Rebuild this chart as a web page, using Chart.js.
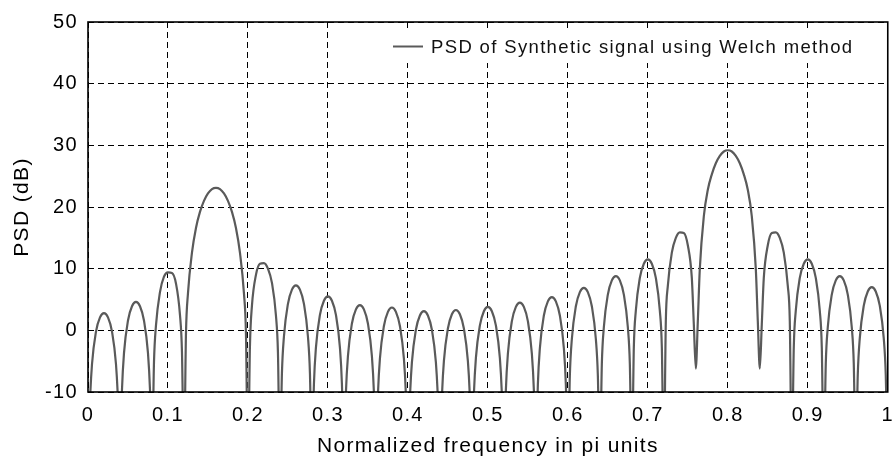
<!DOCTYPE html>
<html><head><meta charset="utf-8">
<script src="https://cdn.jsdelivr.net/npm/chart.js@4/dist/chart.umd.min.js"></script>
<style>html,body{margin:0;padding:0;background:#fff;}#c{display:block;}</style>
</head><body>
<canvas id="c" width="894" height="462"></canvas>
<script>
// Normalized frequency (x) and PSD in dB (y)
const freq = [
  0, 0.0025, 0.005, 0.01, 0.015, 0.02, 0.025, 0.03, 0.035, 0.0375,
  0.04, 0.0425, 0.045, 0.05, 0.055, 0.06, 0.065, 0.07, 0.075, 0.0775,
  0.08, 0.0825, 0.085, 0.09, 0.095, 0.10, 0.105, 0.11, 0.115, 0.1175,
  0.12, 0.1225, 0.125, 0.13, 0.135, 0.14, 0.145, 0.15, 0.155, 0.16, 0.165, 0.17, 0.175, 0.18, 0.185, 0.19, 0.195, 0.1975,
  0.20, 0.2025, 0.205, 0.21, 0.215, 0.22, 0.225, 0.23, 0.235, 0.2375,
  0.24, 0.2425, 0.245, 0.25, 0.255, 0.26, 0.265, 0.27, 0.275, 0.2775,
  0.28, 0.2825, 0.285, 0.29, 0.295, 0.30, 0.305, 0.31, 0.315, 0.3175,
  0.32, 0.3225, 0.325, 0.33, 0.335, 0.34, 0.345, 0.35, 0.355, 0.3575,
  0.36, 0.3625, 0.365, 0.37, 0.375, 0.38, 0.385, 0.39, 0.395, 0.3975,
  0.40, 0.4025, 0.405, 0.41, 0.415, 0.42, 0.425, 0.43, 0.435, 0.4375,
  0.44, 0.4425, 0.445, 0.45, 0.455, 0.46, 0.465, 0.47, 0.475, 0.4775,
  0.48, 0.4825, 0.485, 0.49, 0.495, 0.50, 0.505, 0.51, 0.515, 0.5175,
  0.52, 0.5225, 0.525, 0.53, 0.535, 0.54, 0.545, 0.55, 0.555, 0.5575,
  0.56, 0.5625, 0.565, 0.57, 0.575, 0.58, 0.585, 0.59, 0.595, 0.5975,
  0.60, 0.6025, 0.605, 0.61, 0.615, 0.62, 0.625, 0.63, 0.635, 0.6375,
  0.64, 0.6425, 0.645, 0.65, 0.655, 0.66, 0.665, 0.67, 0.675, 0.6775,
  0.68, 0.6825, 0.685, 0.69, 0.695, 0.70, 0.705, 0.71, 0.715, 0.7175,
  0.72, 0.7225, 0.725, 0.73, 0.735, 0.74, 0.745, 0.75, 0.755, 0.7575,
  0.76, 0.7625, 0.765, 0.77, 0.775, 0.78, 0.785, 0.79, 0.795, 0.80, 0.805, 0.81, 0.815, 0.82, 0.825, 0.83, 0.835, 0.8375,
  0.84, 0.8425, 0.845, 0.85, 0.855, 0.86, 0.865, 0.87, 0.875, 0.8775,
  0.88, 0.8825, 0.885, 0.89, 0.895, 0.90, 0.905, 0.91, 0.915, 0.9175,
  0.92, 0.9225, 0.925, 0.93, 0.935, 0.94, 0.945, 0.95, 0.955, 0.9575,
  0.96, 0.9625, 0.965, 0.97, 0.975, 0.98, 0.985, 0.99, 0.995, 0.9975,
  1.0
];
const psd = [
  -22, -11.4, -5.5, -0.2, 2.1, 2.8, 2.1, -0.2, -5.5, -11.4,
  -22, -9.6, -3.7, 1.6, 3.9, 4.6, 3.9, 1.6, -3.7, -9.6,
  -22, -5.2, 0.8, 6.2, 8.7, 9.4, 9.3, 7.6, 2.5, -3.5,
  -22, -0.5, 6.0, 12.6, 16.6, 19.2, 21.0, 22.2, 22.9, 23.1, 22.9, 22.2, 21.0, 19.2, 16.6, 12.6, 6.0, -0.5,
  -22, -2.5, 4.0, 9.0, 10.8, 10.9, 10.0, 7.7, 2.4, -3.6,
  -22, -6.9, -1.0, 4.3, 6.6, 7.3, 6.6, 4.3, -1.0, -6.9,
  -22, -8.7, -2.8, 2.5, 4.8, 5.5, 4.8, 2.5, -2.8, -8.7,
  -22, -10.1, -4.2, 1.1, 3.4, 4.1, 3.4, 1.1, -4.2, -10.1,
  -22, -10.5, -4.6, 0.7, 3.0, 3.7, 3.0, 0.7, -4.6, -10.5,
  -22, -11.1, -5.2, 0.1, 2.4, 3.1, 2.4, 0.1, -5.2, -11.1,
  -22, -10.9, -5.0, 0.3, 2.6, 3.3, 2.6, 0.3, -5.0, -10.9,
  -22, -10.4, -4.5, 0.8, 3.1, 3.8, 3.1, 0.8, -4.5, -10.4,
  -22, -9.7, -3.8, 1.5, 3.8, 4.5, 3.8, 1.5, -3.8, -9.7,
  -22, -8.8, -2.9, 2.4, 4.7, 5.4, 4.7, 2.4, -2.9, -8.8,
  -22, -7.3, -1.4, 3.9, 6.2, 6.9, 6.2, 3.9, -1.4, -7.3,
  -22, -5.4, 0.5, 5.8, 8.1, 8.8, 8.1, 5.8, 0.5, -5.4,
  -22, -2.7, 3.2, 8.5, 10.8, 11.5, 10.8, 8.5, 3.2, -2.7,
  -22, 1.5, 7.2, 12.6, 15.0, 15.9, 15.8, 13.8, 8.5, 1.0,
  -6.2, 1.5, 10.0, 18.5, 22.8, 25.3, 27.1, 28.3, 29.0, 29.2, 29.0, 28.3, 27.1, 25.3, 22.8, 18.5, 10.0, 1.5,
  -6.2, 1.0, 8.5, 13.8, 15.8, 15.9, 15.0, 12.6, 7.2, 1.5,
  -22, -2.7, 3.2, 8.5, 10.8, 11.5, 10.8, 8.5, 3.2, -2.7,
  -22, -5.4, 0.5, 5.8, 8.1, 8.8, 8.1, 5.8, 0.5, -5.4,
  -22, -7.2, -1.3, 4.0, 6.3, 7.0, 6.3, 4.0, -1.3, -7.2,
  -22
];
const xTicks = [0, 0.1, 0.2, 0.3, 0.4, 0.5, 0.6, 0.7, 0.8, 0.9, 1];
const xTickLabels = ['0', '0.1', '0.2', '0.3', '0.4', '0.5', '0.6', '0.7', '0.8', '0.9', '1'];
const yTicks = [-10, 0, 10, 20, 30, 40, 50];
const yTickLabels = ['-10', '0', '10', '20', '30', '40', '50'];
const seriesLabel = 'PSD of Synthetic signal using Welch method';
const xTitle = 'Normalized frequency in pi units';
const yTitle = 'PSD (dB)';

const FONT = "'Liberation Sans', Arial, Helvetica, sans-serif";
const SPACING = '1.35px';
const LINE_COLOR = '#5a5a5a';

const spacingPlugin = {
  id: 'spacing',
  beforeUpdate(chart) { chart.ctx.letterSpacing = SPACING; },
  beforeDraw(chart) { chart.ctx.letterSpacing = SPACING; }
};

const legendPlugin = {
  id: 'insideLegend',
  beforeDatasetsDraw(chart) {
    const ca = chart.chartArea, ctx = chart.ctx;
    ctx.save();
    ctx.fillStyle = '#ffffff';
    ctx.fillRect(ca.left + 298, ca.top + 8, ca.right - ca.left - 299, 33);
    ctx.strokeStyle = LINE_COLOR;
    ctx.lineWidth = 2;
    ctx.beginPath();
    ctx.moveTo(ca.left + 305, ca.top + 24.5);
    ctx.lineTo(ca.left + 335, ca.top + 24.5);
    ctx.stroke();
    ctx.letterSpacing = SPACING;
    ctx.fillStyle = '#111';
    ctx.font = '18.5px ' + FONT;
    ctx.textBaseline = 'middle';
    ctx.textAlign = 'left';
    ctx.fillText(seriesLabel, ca.left + 343, ca.top + 25.5);
    ctx.restore();
  },
  afterDatasetsDraw(chart) {
    const ca = chart.chartArea, ctx = chart.ctx;
    ctx.save();
    ctx.strokeStyle = '#000';
    ctx.lineWidth = 1.6;
    ctx.strokeRect(ca.left, ca.top, ca.right - ca.left, ca.bottom - ca.top);
    ctx.restore();
  }
};

new Chart(document.getElementById('c'), {
  type: 'line',
  data: {
    datasets: [{
      label: seriesLabel,
      data: freq.map((f, i) => ({ x: f, y: psd[i] })),
      borderColor: LINE_COLOR,
      borderWidth: 2.2,
      pointRadius: 0,
      fill: false,
      cubicInterpolationMode: 'monotone',
      clip: 0
    }]
  },
  plugins: [spacingPlugin, legendPlugin],
  options: {
    responsive: false,
    animation: false,
    events: [],
    layout: { padding: { left: 10, right: 0, top: 20, bottom: 0 } },
    plugins: { legend: { display: false }, tooltip: { enabled: false } },
    scales: {
      x: {
        type: 'linear', min: 0, max: 1,
        afterBuildTicks: s => { s.ticks = xTicks.map(v => ({ value: v })); },
        afterFit: s => { s.height = 70; },
        ticks: { callback: (v, i) => xTickLabels[i], color: '#000', padding: 0, maxRotation: 0, autoSkip: false,
                 font: { family: FONT, size: 20 } },
        grid: { color: '#000', lineWidth: 1, drawTicks: true, tickLength: 11, tickColor: 'rgba(0,0,0,0)' },
        border: { display: false, dash: [6, 4] },
        title: { display: true, text: xTitle, color: '#000', font: { family: FONT, size: 21 }, padding: { top: 0, bottom: 3.5 } }
      },
      y: {
        type: 'linear', min: -10, max: 50,
        afterBuildTicks: s => { s.ticks = yTicks.map(v => ({ value: v })); },
        afterFit: s => { s.width = 78; },
        ticks: { callback: (v, i) => yTickLabels[i], color: '#000', padding: 10, autoSkip: false,
                 font: { family: FONT, size: 20 } },
        grid: { color: '#000', lineWidth: 1, drawTicks: false },
        border: { display: false, dash: [6, 4] },
        title: { display: true, text: yTitle, color: '#000', font: { family: FONT, size: 21 }, padding: { top: 0, bottom: 0 } }
      }
    }
  }
});
</script>
</body></html>
